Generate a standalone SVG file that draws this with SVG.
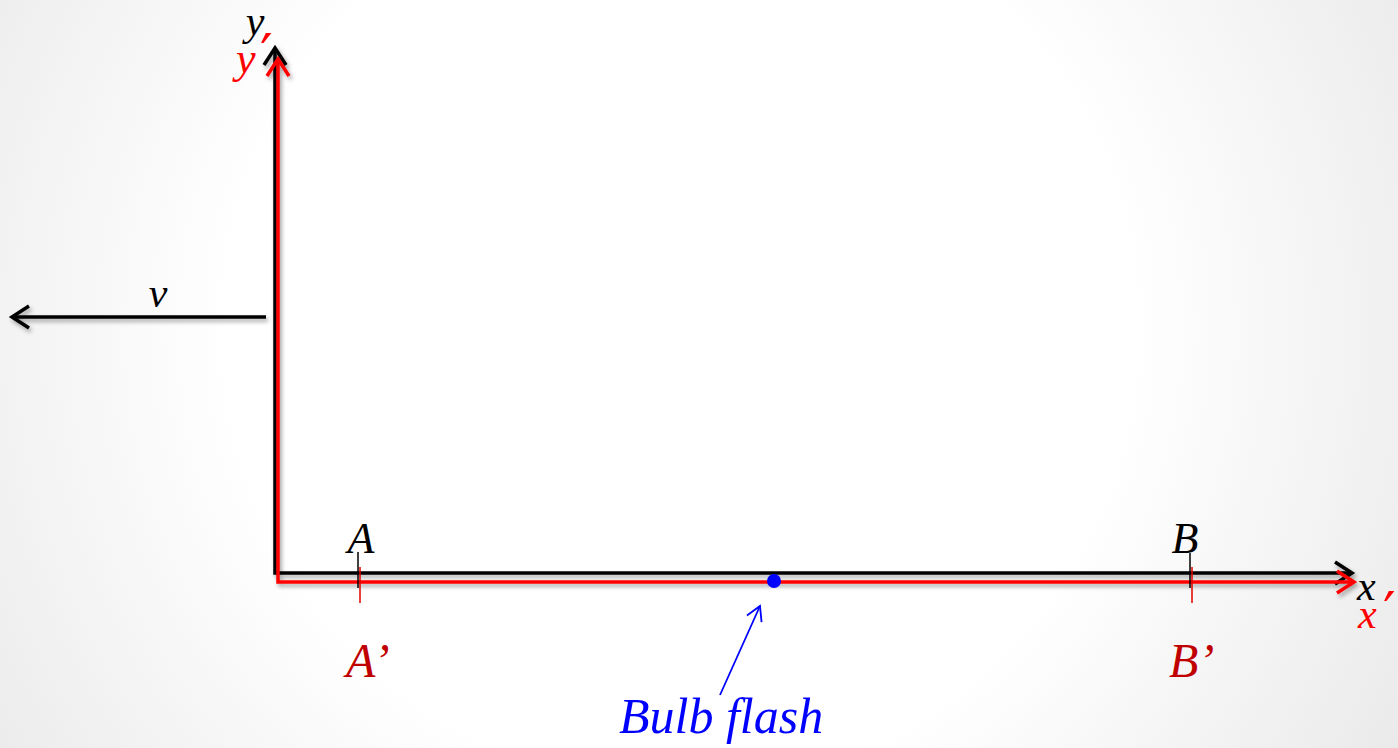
<svg xmlns="http://www.w3.org/2000/svg" width="1398" height="748" viewBox="0 0 1398 748">
<defs>
<radialGradient id="bg" cx="680" cy="330" r="900" gradientUnits="userSpaceOnUse">
<stop offset="0.5" stop-color="#ffffff"/>
<stop offset="1" stop-color="#e6e6e6"/>
</radialGradient>
<filter id="sh" x="-5%" y="-5%" width="110%" height="110%">
<feDropShadow dx="2" dy="3" stdDeviation="2" flood-color="#000" flood-opacity="0.35"/>
</filter>
<marker id="ab" markerUnits="userSpaceOnUse" markerWidth="30" markerHeight="30" viewBox="-20 -15 25 30" refX="0" refY="0" orient="auto-start-reverse">
<path d="M -17 -11 L 0 0 L -17 11" fill="none" stroke="#000" stroke-width="3.5"/>
</marker>
<marker id="ar" markerUnits="userSpaceOnUse" markerWidth="30" markerHeight="30" viewBox="-20 -15 25 30" refX="0" refY="0" orient="auto-start-reverse">
<path d="M -17 -11 L 0 0 L -17 11" fill="none" stroke="#ff0000" stroke-width="3.5"/>
</marker>
<marker id="abl" markerUnits="userSpaceOnUse" markerWidth="24" markerHeight="24" viewBox="-15 -12 20 24" refX="0" refY="0" orient="auto">
<path d="M -14 -8 L 0 0 L -14 8" fill="none" stroke="#0000ff" stroke-width="1.8"/>
</marker>
</defs>
<style>
.m{font-family:"Liberation Serif","DejaVu Serif",serif;font-style:italic}
.p{font-family:"DejaVu Sans",sans-serif;font-style:normal}
.blk{fill:#000}
.red{fill:#ff0000}
.dred{fill:#c00000}
.blue{fill:#0000ff}
</style>
<rect width="1398" height="748" fill="url(#bg)"/>
<g id="connectors">
<g filter="url(#sh)">
<polyline id="axis-black" points="1352,573 275,573 275,48" fill="none" stroke="#000" stroke-width="3.5" marker-start="url(#ab)" marker-end="url(#ab)"/>
<polyline id="axis-red" points="1354,582 278,582 278,59" fill="none" stroke="#ff0000" stroke-width="3.5" marker-start="url(#ar)" marker-end="url(#ar)"/>
<line id="v-arrow" x1="266" y1="317" x2="12" y2="317" stroke="#000" stroke-width="3.5" marker-end="url(#ab)"/>
</g>
<line id="bulb-arrow" x1="720" y1="695" x2="760" y2="606" stroke="#0000ff" stroke-width="1.8" marker-end="url(#abl)"/>
</g>
<g id="tick-A"><line x1="358" y1="552" x2="358" y2="588" stroke="#000" stroke-width="1.5"/><line x1="360" y1="567" x2="360" y2="603" stroke="#e00000" stroke-width="1.5"/></g>
<g id="tick-B"><line x1="1190" y1="553" x2="1190" y2="588" stroke="#000" stroke-width="1.5"/><line x1="1192" y1="567" x2="1192" y2="603" stroke="#e00000" stroke-width="1.5"/></g>
<g id="bulb"><circle cx="774" cy="581" r="7" fill="#0000ff"/></g>
<g id="labels">
<text class="m blk" x="255" y="35" font-size="42" text-anchor="middle">y</text>
<text class="m red" x="236" y="73" font-size="44">y</text>
<text class="p red" x="260" y="73" font-size="56">′</text>
<text class="m blk" x="1357" y="600" font-size="42">x</text>
<text class="m red" x="1358" y="628" font-size="42">x</text>
<text class="p red" x="1383" y="631" font-size="56">′</text>
<text class="m blk" x="158" y="307" font-size="42" text-anchor="middle">v</text>
<text class="m blk" x="361" y="553" font-size="44" text-anchor="middle">A</text>
<text class="m blk" x="1185" y="553" font-size="44" text-anchor="middle">B</text>
<text class="m dred" x="346" y="677" font-size="48">A’</text>
<text class="m dred" x="1169" y="677" font-size="48">B’</text>
<text class="m blue" x="619" y="733" font-size="50">Bulb flash</text>
</g>
</svg>
